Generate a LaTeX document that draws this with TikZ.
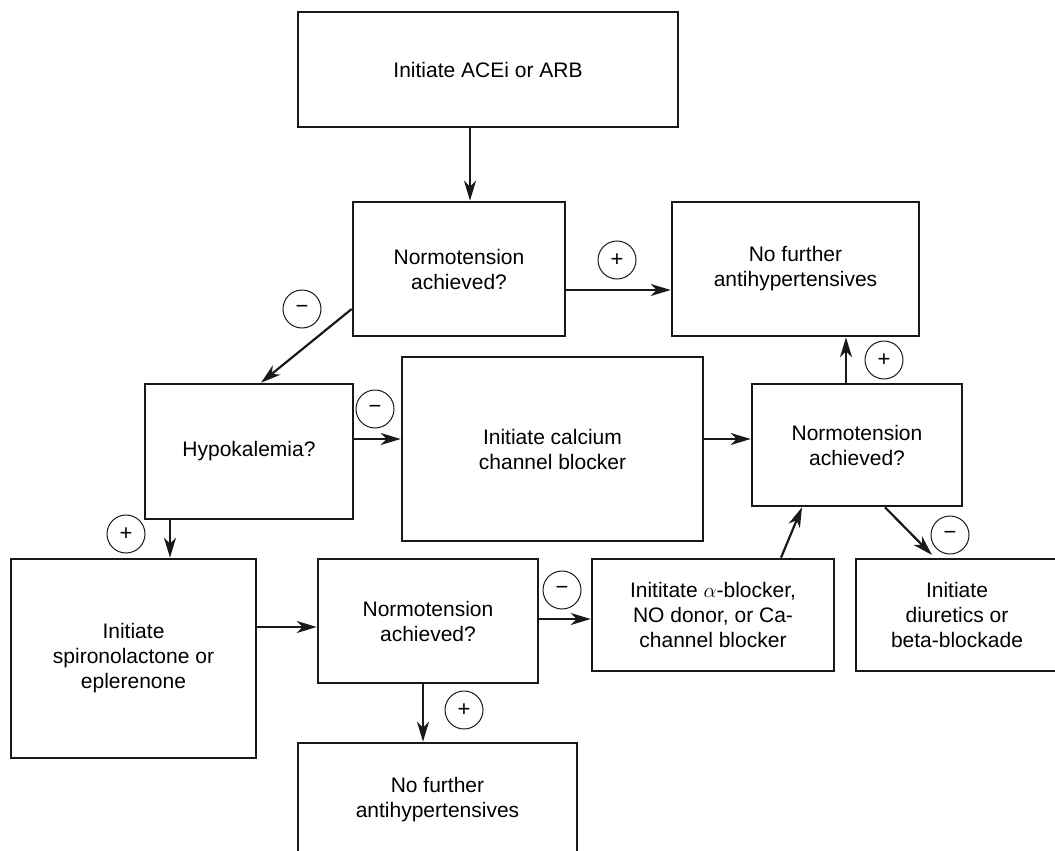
\documentclass[tikz,border=0pt]{standalone}
\usepackage{fontspec}
\setmainfont{Liberation Sans}
\usetikzlibrary{arrows.meta, calc}
\tikzset{
  box/.style={rectangle, draw=black!90, line width=2.6pt, align=center, inner sep=0pt,
              font=\fontsize{21}{25}\selectfont},
  arrow/.style={-{Stealth[length=20pt, width=12pt, inset=6pt]}, line width=2.2pt, draw=black!90},
  sign/.style={circle, draw=black!90, line width=1pt, minimum size=38pt, inner sep=0pt,
              font=\fontsize{22}{22}\selectfont},
}

\begin{document}
\begin{tikzpicture}[x=1pt, y=-1pt]
  \useasboundingbox (0,0) rectangle (1055,851);
  \clip (0,0) rectangle (1055,851);
  % boxes
  \node[box, minimum width=380pt, minimum height=115pt] (init) at (488,69.5) {Initiate ACEi or ARB};
  \node[box, minimum width=212pt, minimum height=134pt] (nt1) at (459,269) {Normotension\\achieved?};
  \node[box, minimum width=247pt, minimum height=134pt] (nf1) at (795.5,269) {No further\\antihypertensives};
  \node[box, minimum width=208pt, minimum height=135pt] (hypo) at (249,451.5) {Hypokalemia?};
  \node[box, minimum width=301pt, minimum height=184pt] (ccb) at (552.5,449) {Initiate calcium\\channel blocker};
  \node[box, minimum width=210pt, minimum height=122pt] (nt2) at (857,445) {Normotension\\achieved?};
  \node[box, minimum width=245pt, minimum height=199pt] (spiro) at (133.5,658.5) {Initiate\\spironolactone or\\eplerenone};
  \node[box, minimum width=220pt, minimum height=124pt] (nt3) at (428,621) {Normotension\\achieved?};
  \node[box, minimum width=242pt, minimum height=112pt] (alpha) at (713,615) {Inititate $\alpha$-blocker,\\NO donor, or Ca-\\channel blocker};
  \node[box, minimum width=202pt, minimum height=112pt] (diur) at (957,615) {Initiate\\diuretics or\\beta-blockade};
  \node[box, minimum width=279pt, minimum height=114pt] (nf2) at (437.5,800) {No further\\antihypertensives};
  % signs
  \node[sign] (s1) at (617,260) {+};
  \node[sign] (s2) at (302,309) {−};
  \node[sign] (s3) at (375,409) {−};
  \node[sign] (s4) at (884,360) {+};
  \node[sign] (s5) at (950,535) {−};
  \node[sign] (s6) at (126,534) {+};
  \node[sign] (s7) at (562,590) {−};
  \node[sign] (s8) at (464,710) {+};
  % connectors
  \coordinate (diurtip) at (932,555);
  \draw[arrow] (470,0 |- init.south) -- (470,0 |- nt1.north);
  \draw[arrow] (nt1.east |- 0,290) -- (nf1.west |- 0,290);
  \draw[arrow] (nt1.west |- 0,309) -- (261,0 |- hypo.north);
  \draw[arrow] (hypo.east |- 0,439) -- (ccb.west |- 0,439);
  \draw[arrow] (ccb.east |- 0,439) -- (nt2.west |- 0,439);
  \draw[arrow] (846,0 |- nt2.north) -- (846,0 |- nf1.south);
  \draw[arrow] (885,0 |- nt2.south) -- (diurtip);
  \draw[arrow] (781,0 |- alpha.north) -- (802,0 |- nt2.south);
  \draw[arrow] (170,0 |- hypo.south) -- (170,0 |- spiro.north);
  \draw[arrow] (spiro.east |- 0,627) -- (nt3.west |- 0,627);
  \draw[arrow] (nt3.east |- 0,619) -- (alpha.west |- 0,619);
  \draw[arrow] (423,0 |- nt3.south) -- (423,0 |- nf2.north);
\end{tikzpicture}
\end{document}
